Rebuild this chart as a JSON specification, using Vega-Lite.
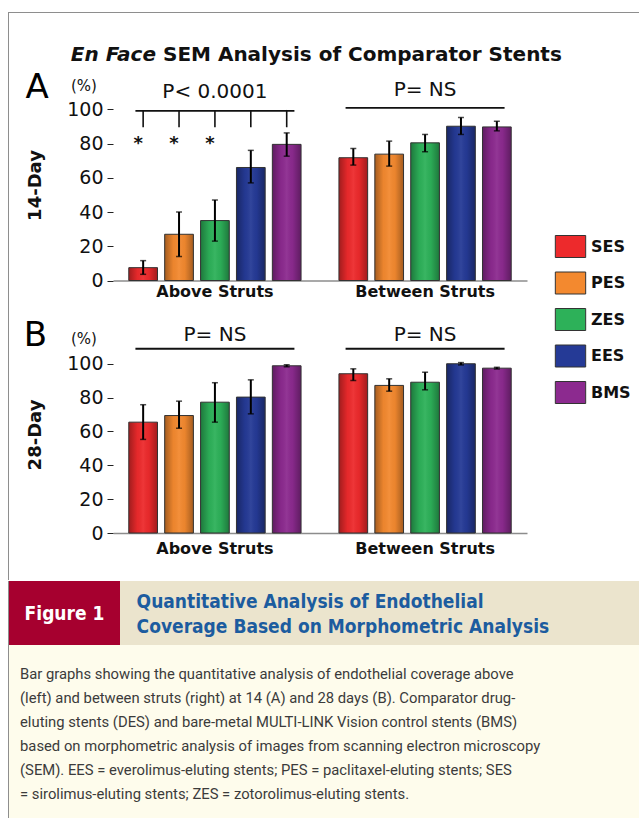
{
  "$schema": "https://vega.github.io/schema/vega-lite/v6.json",
  "padding": {"left": 8, "top": 12, "right": 0, "bottom": 0},
  "background": "#ffffff",
  "spacing": 0,
  "config": {
    "view": {"stroke": null},
    "font": "DejaVu Sans",
    "axis": {"labelFont": "DejaVu Sans", "titleFont": "DejaVu Sans"}
  },
  "resolve": {"scale": {"color": "independent", "xOffset": "independent"}, "legend": {"color": "independent"}},
  "datasets": {
    "d14": [
      {"group": "Above Struts", "stent": "SES", "mean": 7.5, "lo": 3.6, "hi": 11.6},
      {"group": "Above Struts", "stent": "PES", "mean": 27, "lo": 14, "hi": 40},
      {"group": "Above Struts", "stent": "ZES", "mean": 35, "lo": 23, "hi": 47},
      {"group": "Above Struts", "stent": "EES", "mean": 66, "lo": 57, "hi": 76},
      {"group": "Above Struts", "stent": "BMS", "mean": 79.5, "lo": 72.6, "hi": 86.2},
      {"group": "Between Struts", "stent": "SES", "mean": 71.7, "lo": 67.4, "hi": 77.1},
      {"group": "Between Struts", "stent": "PES", "mean": 73.8, "lo": 66.8, "hi": 81.4},
      {"group": "Between Struts", "stent": "ZES", "mean": 80.4, "lo": 75.2, "hi": 85.3},
      {"group": "Between Struts", "stent": "EES", "mean": 90.1, "lo": 85.3, "hi": 95.2},
      {"group": "Between Struts", "stent": "BMS", "mean": 89.7, "lo": 87.4, "hi": 93}
    ],
    "d28": [
      {"group": "Above Struts", "stent": "SES", "mean": 65.5, "lo": 55.3, "hi": 75.8},
      {"group": "Above Struts", "stent": "PES", "mean": 69.4, "lo": 61.9, "hi": 77.9},
      {"group": "Above Struts", "stent": "ZES", "mean": 77.3, "lo": 65.5, "hi": 88.8},
      {"group": "Above Struts", "stent": "EES", "mean": 80.3, "lo": 70.4, "hi": 90.5},
      {"group": "Above Struts", "stent": "BMS", "mean": 98.8, "lo": 98.2, "hi": 99.4},
      {"group": "Between Struts", "stent": "SES", "mean": 94.1, "lo": 90.1, "hi": 97},
      {"group": "Between Struts", "stent": "PES", "mean": 87.2, "lo": 83.8, "hi": 91.1},
      {"group": "Between Struts", "stent": "ZES", "mean": 89.1, "lo": 84.6, "hi": 95},
      {"group": "Between Struts", "stent": "EES", "mean": 100, "lo": 99.3, "hi": 100.7},
      {"group": "Between Struts", "stent": "BMS", "mean": 97.4, "lo": 96.9, "hi": 97.9}
    ],
    "lines14": [
      {"group": "Above Struts", "y1": 98.5, "y2": 99.6},
      {"group": "Between Struts", "y1": 100.3, "y2": 101.4}
    ],
    "drops14": [
      {"group": "Above Struts", "stent": "SES", "y1": 89.5, "y2": 99.6},
      {"group": "Above Struts", "stent": "PES", "y1": 89.5, "y2": 99.6},
      {"group": "Above Struts", "stent": "ZES", "y1": 89.5, "y2": 99.6},
      {"group": "Above Struts", "stent": "EES", "y1": 89.5, "y2": 99.6},
      {"group": "Above Struts", "stent": "BMS", "y1": 89.5, "y2": 99.6}
    ],
    "stars14": [
      {"group": "Above Struts", "stent": "SES", "y": 80},
      {"group": "Above Struts", "stent": "PES", "y": 80},
      {"group": "Above Struts", "stent": "ZES", "y": 80}
    ],
    "p14": [
      {"group": "Above Struts", "y": 109.8, "label": "P< 0.0001"},
      {"group": "Between Struts", "y": 111.3, "label": "P= NS"}
    ],
    "lines28": [
      {"group": "Above Struts", "y1": 108.3, "y2": 109.5},
      {"group": "Between Struts", "y1": 108.3, "y2": 109.5}
    ],
    "p28": [
      {"group": "Above Struts", "y": 117.2, "label": "P= NS"},
      {"group": "Between Struts", "y": 117.2, "label": "P= NS"}
    ],
    "caption": [
      {"line": 1, "t": "Bar graphs showing the quantitative analysis of endothelial coverage above"},
      {"line": 2, "t": "(left) and between struts (right) at 14 (A) and 28 days (B). Comparator drug-"},
      {"line": 3, "t": "eluting stents (DES) and bare-metal MULTI-LINK Vision control stents (BMS)"},
      {"line": 4, "t": "based on morphometric analysis of images from scanning electron microscopy"},
      {"line": 5, "t": "(SEM). EES = everolimus-eluting stents; PES = paclitaxel-eluting stents; SES"},
      {"line": 6, "t": "= sirolimus-eluting stents; ZES = zotorolimus-eluting stents."}
    ],
    "heading": [
      {"line": 1, "t": "Quantitative Analysis of Endothelial"},
      {"line": 2, "t": "Coverage Based on Morphometric Analysis"}
    ]
  },
  "vconcat": [
    {
      "spacing": 0,
      "resolve": {"scale": {"color": "independent", "xOffset": "independent"}, "legend": {"color": "independent"}},
      "hconcat": [
        {
          "width": 1, "height": 568,
          "view": {"fill": "#8e8e8e", "stroke": null},
          "data": {"values": [{}]},
          "mark": {"type": "text", "text": "", "fontSize": 1, "baseline": "top", "align": "left"},
          "encoding": {}
        },
        {
          "spacing": 0,
          "bounds": "flush",
          "resolve": {"scale": {"color": "independent", "xOffset": "independent"}, "legend": {"color": "independent"}},
          "vconcat": [
            {
              "width": 630, "height": 1,
              "view": {"fill": "#8e8e8e", "stroke": null},
              "data": {"values": [{}]},
              "mark": {"type": "text", "text": "", "fontSize": 1, "baseline": "top", "align": "left"},
              "encoding": {}
            },
            {
              "width": 630, "height": 61,
              "data": {"values": [{}]},
              "layer": [
                {
                  "mark": {"type": "text", "text": "En Face", "fontSize": 20, "fontWeight": "bold", "fontStyle": "italic", "align": "right", "baseline": "alphabetic", "color": "#111111"},
                  "encoding": {
                    "x": {"datum": 0.2333, "type": "quantitative", "scale": {"domain": [0, 1]}, "axis": null},
                    "y": {"datum": 0.213, "type": "quantitative", "scale": {"domain": [0, 1]}, "axis": null}
                  }
                },
                {
                  "mark": {"type": "text", "text": "SEM Analysis of Comparator Stents", "fontSize": 20, "fontWeight": "bold", "align": "left", "baseline": "alphabetic", "color": "#111111"},
                  "encoding": {
                    "x": {"datum": 0.2444, "type": "quantitative", "scale": {"domain": [0, 1]}, "axis": null},
                    "y": {"datum": 0.213, "type": "quantitative", "scale": {"domain": [0, 1]}, "axis": null}
                  }
                }
              ]
            },
            {
              "width": 630, "height": 206.5,
              "resolve": {"axis": {"y": "independent"}},
              "layer": [
                {
                  "data": {"name": "d14"},
                  "mark": {"type": "bar"},
                  "encoding": {
                    "x": {"field": "group", "type": "nominal", "sort": ["Above Struts", "Between Struts"],
                      "scale": {"range": [104, 518], "paddingInner": 0.03, "paddingOuter": 0},
                      "axis": {"title": null, "domain": true, "domainColor": "#8c8c8c", "domainWidth": 1.5, "ticks": false, "tickSize": 0, "labelPadding": 3, "labelFontSize": 16, "labelFontWeight": "bold", "labelColor": "#111111", "labelAngle": 0}},
                    "xOffset": {"field": "stent", "type": "nominal", "scale": {"domain": ["SES", "PES", "ZES", "EES", "BMS"], "paddingInner": 0.2, "paddingOuter": 0.44}},
                    "y": {"field": "mean", "type": "quantitative", "scale": {"domain": [0, 120.6], "nice": false},
                      "axis": {"orient": "left", "offset": -104, "values": [0, 20, 40, 60, 80, 100], "domain": false, "grid": false, "tickSize": 6, "tickColor": "#222222", "labelFontSize": 19, "labelColor": "#111111", "labelPadding": 4,
                        "title": "14-Day", "titleFontSize": 18, "titleFontWeight": "bold", "titleColor": "#111111", "titleX": -78, "titleY": 111, "titleAngle": -90, "titleAlign": "center", "titleBaseline": "middle"}},
                    "color": {"field": "stent", "type": "nominal",
                      "scale": {"domain": ["SES", "PES", "ZES", "EES", "BMS"], "range": ["#ed2a2c", "#f3892f", "#2db159", "#253a96", "#8c2a8f"]},
                      "legend": {"orient": "none", "legendX": 550, "legendY": 161, "title": null, "padding": 0,
                        "symbolType": "M-1.38,-1H1.38V1H-1.38Z", "symbolSize": 484, "symbolStrokeColor": "#333333", "symbolStrokeWidth": 1, "symbolOpacity": 1,
                        "labelFontSize": 16, "labelFontWeight": "bold", "labelColor": "#111111", "labelOffset": 9, "rowPadding": 9.5}}
                  }
                },
                {
                  "data": {"name": "d14"},
                  "mark": {"type": "bar", "stroke": "#333333", "strokeWidth": 1,
                    "fill": {"gradient": "linear", "x1": 0, "y1": 0, "x2": 1, "y2": 0, "stops": [
                      {"offset": 0, "color": "rgba(0,0,0,0.32)"},
                      {"offset": 0.3, "color": "rgba(0,0,0,0.03)"},
                      {"offset": 0.5, "color": "rgba(255,255,255,0.06)"},
                      {"offset": 0.7, "color": "rgba(0,0,0,0.03)"},
                      {"offset": 1, "color": "rgba(0,0,0,0.32)"}]}},
                  "encoding": {
                    "x": {"field": "group", "type": "nominal"},
                    "xOffset": {"field": "stent", "type": "nominal"},
                    "y": {"field": "mean", "type": "quantitative",
                      "axis": {"orient": "left", "offset": -104, "domain": false, "ticks": false, "labels": false, "grid": false,
                        "title": "(%)", "titleFontSize": 15, "titleFontWeight": "normal", "titleColor": "#111111", "titleX": -29.5, "titleY": 11, "titleAngle": 0, "titleAlign": "center", "titleBaseline": "middle"}}
                  }
                },
                {
                  "data": {"name": "d14"},
                  "mark": {"type": "rule", "color": "#000000", "strokeWidth": 2},
                  "encoding": {
                    "x": {"field": "group", "type": "nominal"},
                    "xOffset": {"field": "stent", "type": "nominal"},
                    "y": {"field": "lo", "type": "quantitative",
                      "axis": {"orient": "left", "offset": -104, "domain": false, "ticks": false, "labels": false, "grid": false,
                        "title": "A", "titleFontSize": 34, "titleFontWeight": "normal", "titleColor": "#000000", "titleX": -76.5, "titleY": 13.5, "titleAngle": 0, "titleAlign": "center", "titleBaseline": "middle"}},
                    "y2": {"field": "hi"}
                  }
                },
                {
                  "data": {"name": "d14"},
                  "mark": {"type": "tick", "orient": "horizontal", "size": 6, "thickness": 1.5, "color": "#000000"},
                  "encoding": {
                    "x": {"field": "group", "type": "nominal"},
                    "xOffset": {"field": "stent", "type": "nominal"},
                    "y": {"field": "lo", "type": "quantitative", "axis": null}
                  }
                },
                {
                  "data": {"name": "d14"},
                  "mark": {"type": "tick", "orient": "horizontal", "size": 6, "thickness": 1.5, "color": "#000000"},
                  "encoding": {
                    "x": {"field": "group", "type": "nominal"},
                    "xOffset": {"field": "stent", "type": "nominal"},
                    "y": {"field": "hi", "type": "quantitative", "axis": null}
                  }
                },
                {
                  "data": {"name": "lines14"},
                  "mark": {"type": "bar", "color": "#111111", "width": {"band": 0.78}},
                  "encoding": {
                    "x": {"field": "group", "type": "nominal"},
                    "y": {"field": "y1", "type": "quantitative", "axis": null},
                    "y2": {"field": "y2"}
                  }
                },
                {
                  "data": {"name": "drops14"},
                  "mark": {"type": "rule", "color": "#111111", "strokeWidth": 1.6},
                  "encoding": {
                    "x": {"field": "group", "type": "nominal"},
                    "xOffset": {"field": "stent", "type": "nominal"},
                    "y": {"field": "y1", "type": "quantitative", "axis": null},
                    "y2": {"field": "y2"}
                  }
                },
                {
                  "data": {"name": "stars14"},
                  "mark": {"type": "text", "text": "*", "fontSize": 18, "fontWeight": "bold", "baseline": "middle", "align": "center", "color": "#111111", "dx": -5},
                  "encoding": {
                    "x": {"field": "group", "type": "nominal"},
                    "xOffset": {"field": "stent", "type": "nominal"},
                    "y": {"field": "y", "type": "quantitative", "axis": null}
                  }
                },
                {
                  "data": {"name": "p14"},
                  "mark": {"type": "text", "fontSize": 20, "baseline": "middle", "align": "center", "color": "#111111"},
                  "encoding": {
                    "x": {"field": "group", "type": "nominal"},
                    "y": {"field": "y", "type": "quantitative", "axis": null},
                    "text": {"field": "label"}
                  }
                }
              ]
            },
            {
              "width": 630, "height": 252,
              "resolve": {"axis": {"y": "independent"}},
              "layer": [
                {
                  "data": {"name": "d28"},
                  "mark": {"type": "bar"},
                  "encoding": {
                    "x": {"field": "group", "type": "nominal", "sort": ["Above Struts", "Between Struts"],
                      "scale": {"range": [104, 518], "paddingInner": 0.03, "paddingOuter": 0},
                      "axis": {"title": null, "domain": true, "domainColor": "#8c8c8c", "domainWidth": 1.5, "ticks": false, "tickSize": 0, "labelPadding": 7, "labelFontSize": 16, "labelFontWeight": "bold", "labelColor": "#111111", "labelAngle": 0}},
                    "xOffset": {"field": "stent", "type": "nominal", "scale": {"domain": ["SES", "PES", "ZES", "EES", "BMS"], "paddingInner": 0.2, "paddingOuter": 0.44}},
                    "y": {"field": "mean", "type": "quantitative", "scale": {"domain": [0, 148.9], "nice": false},
                      "axis": {"orient": "left", "offset": -104, "values": [0, 20, 40, 60, 80, 100], "domain": false, "grid": false, "tickSize": 6, "tickColor": "#222222", "labelFontSize": 19, "labelColor": "#111111", "labelPadding": 4,
                        "title": "28-Day", "titleFontSize": 18, "titleFontWeight": "bold", "titleColor": "#111111", "titleX": -78, "titleY": 153.5, "titleAngle": -90, "titleAlign": "center", "titleBaseline": "middle"}},
                    "color": {"field": "stent", "type": "nominal",
                      "scale": {"domain": ["SES", "PES", "ZES", "EES", "BMS"], "range": ["#ed2a2c", "#f3892f", "#2db159", "#253a96", "#8c2a8f"]},
                      "legend": null}
                  }
                },
                {
                  "data": {"name": "d28"},
                  "mark": {"type": "bar", "stroke": "#333333", "strokeWidth": 1,
                    "fill": {"gradient": "linear", "x1": 0, "y1": 0, "x2": 1, "y2": 0, "stops": [
                      {"offset": 0, "color": "rgba(0,0,0,0.32)"},
                      {"offset": 0.3, "color": "rgba(0,0,0,0.03)"},
                      {"offset": 0.5, "color": "rgba(255,255,255,0.06)"},
                      {"offset": 0.7, "color": "rgba(0,0,0,0.03)"},
                      {"offset": 1, "color": "rgba(0,0,0,0.32)"}]}},
                  "encoding": {
                    "x": {"field": "group", "type": "nominal"},
                    "xOffset": {"field": "stent", "type": "nominal"},
                    "y": {"field": "mean", "type": "quantitative",
                      "axis": {"orient": "left", "offset": -104, "domain": false, "ticks": false, "labels": false, "grid": false,
                        "title": "(%)", "titleFontSize": 15, "titleFontWeight": "normal", "titleColor": "#111111", "titleX": -29.5, "titleY": 57, "titleAngle": 0, "titleAlign": "center", "titleBaseline": "middle"}}
                  }
                },
                {
                  "data": {"name": "d28"},
                  "mark": {"type": "rule", "color": "#000000", "strokeWidth": 2},
                  "encoding": {
                    "x": {"field": "group", "type": "nominal"},
                    "xOffset": {"field": "stent", "type": "nominal"},
                    "y": {"field": "lo", "type": "quantitative",
                      "axis": {"orient": "left", "offset": -104, "domain": false, "ticks": false, "labels": false, "grid": false,
                        "title": "B", "titleFontSize": 34, "titleFontWeight": "normal", "titleColor": "#000000", "titleX": -78, "titleY": 54.5, "titleAngle": 0, "titleAlign": "center", "titleBaseline": "middle"}},
                    "y2": {"field": "hi"}
                  }
                },
                {
                  "data": {"name": "d28"},
                  "mark": {"type": "tick", "orient": "horizontal", "size": 6, "thickness": 1.5, "color": "#000000"},
                  "encoding": {
                    "x": {"field": "group", "type": "nominal"},
                    "xOffset": {"field": "stent", "type": "nominal"},
                    "y": {"field": "lo", "type": "quantitative", "axis": null}
                  }
                },
                {
                  "data": {"name": "d28"},
                  "mark": {"type": "tick", "orient": "horizontal", "size": 6, "thickness": 1.5, "color": "#000000"},
                  "encoding": {
                    "x": {"field": "group", "type": "nominal"},
                    "xOffset": {"field": "stent", "type": "nominal"},
                    "y": {"field": "hi", "type": "quantitative", "axis": null}
                  }
                },
                {
                  "data": {"name": "lines28"},
                  "mark": {"type": "bar", "color": "#111111", "width": {"band": 0.78}},
                  "encoding": {
                    "x": {"field": "group", "type": "nominal"},
                    "y": {"field": "y1", "type": "quantitative", "axis": null},
                    "y2": {"field": "y2"}
                  }
                },
                {
                  "data": {"name": "p28"},
                  "mark": {"type": "text", "fontSize": 20, "baseline": "middle", "align": "center", "color": "#111111"},
                  "encoding": {
                    "x": {"field": "group", "type": "nominal"},
                    "y": {"field": "y", "type": "quantitative", "axis": null},
                    "text": {"field": "label"}
                  }
                }
              ]
            },
            {
              "width": 630, "height": 47.5,
              "data": {"values": [{}]},
              "mark": {"type": "text", "text": "", "fontSize": 1, "baseline": "top", "align": "left"},
              "encoding": {}
            }
          ]
        }
      ]
    },
    {
      "spacing": 0,
      "hconcat": [
        {
          "width": 1, "height": 64,
          "view": {"fill": "#8e8e8e", "stroke": null},
          "data": {"values": [{}]},
          "mark": {"type": "text", "text": "", "fontSize": 1, "baseline": "top", "align": "left"},
          "encoding": {}
        },
        {
          "width": 111, "height": 64,
          "view": {"fill": "#a6002f", "stroke": null},
          "data": {"values": [{"t": "Figure 1"}]},
          "mark": {"type": "text", "font": "DejaVu Sans Condensed", "fontWeight": "bold", "fontSize": 19, "color": "#ffffff", "align": "center", "baseline": "alphabetic"},
          "encoding": {
            "text": {"field": "t"},
            "x": {"datum": 0.5, "type": "quantitative", "scale": {"domain": [0, 1]}, "axis": null},
            "y": {"datum": 0.39, "type": "quantitative", "scale": {"domain": [0, 1]}, "axis": null}
          }
        },
        {
          "width": 519, "height": 64,
          "view": {"fill": "#ebe4cd", "stroke": null},
          "data": {"name": "heading"},
          "mark": {"type": "text", "font": "DejaVu Sans Condensed", "fontWeight": "bold", "fontSize": 19, "color": "#1c5c9f", "align": "left", "baseline": "alphabetic"},
          "encoding": {
            "text": {"field": "t"},
            "x": {"datum": 0.032, "type": "quantitative", "scale": {"domain": [0, 1]}, "axis": null},
            "y": {"field": "line", "type": "quantitative", "scale": {"domain": [-0.08, 2.48], "reverse": true, "nice": false, "zero": false}, "axis": null}
          }
        }
      ]
    },
    {
      "spacing": 0,
      "hconcat": [
        {
          "width": 1, "height": 174,
          "view": {"fill": "#8e8e8e", "stroke": null},
          "data": {"values": [{}]},
          "mark": {"type": "text", "text": "", "fontSize": 1, "baseline": "top", "align": "left"},
          "encoding": {}
        },
        {
          "width": 630, "height": 174,
          "view": {"fill": "#fefcec", "stroke": null},
          "data": {"name": "caption"},
          "mark": {"type": "text", "font": "Roboto", "fontSize": 14.8, "color": "#3b3b3b", "align": "left", "baseline": "alphabetic"},
          "encoding": {
            "text": {"field": "t"},
            "x": {"datum": 0.0175, "type": "quantitative", "scale": {"domain": [0, 1]}, "axis": null},
            "y": {"field": "line", "type": "quantitative", "scale": {"domain": [-0.4167, 6.8333], "reverse": true, "nice": false, "zero": false}, "axis": null}
          }
        }
      ]
    }
  ]
}
